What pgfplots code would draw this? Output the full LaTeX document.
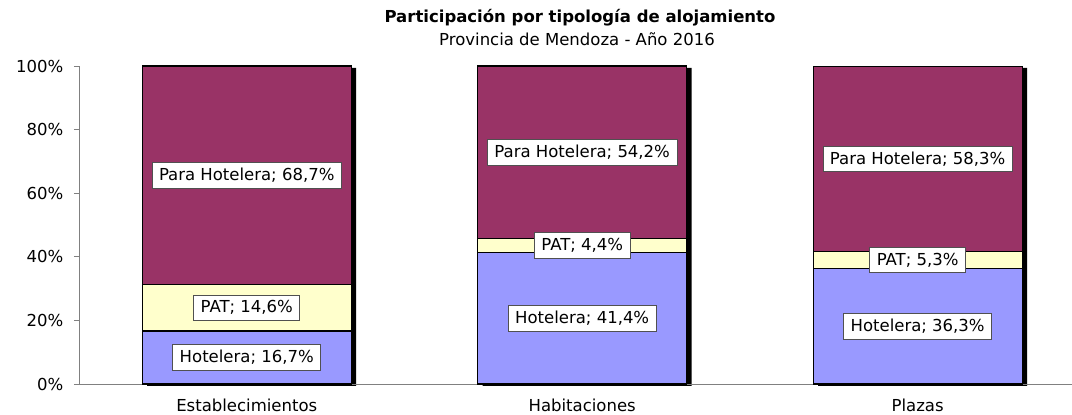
\documentclass[border=0pt]{standalone}
\usepackage{fontspec}
\setmainfont{DejaVu Sans}
\usepackage{pgfplots}
\pgfplotsset{compat=1.18}
\definecolor{ph}{HTML}{993366}
\definecolor{pat}{HTML}{FFFFCC}
\definecolor{hot}{HTML}{9999FF}
\definecolor{axgray}{HTML}{808080}
\definecolor{boxgray}{HTML}{505050}
\begin{document}
\fontsize{16.5}{20}\selectfont
\begin{tikzpicture}
\pgfplotsset{common/.style={scale only axis, width=993pt, height=318pt,
  xmin=-0.5, xmax=2.46, ymin=0, ymax=100, bar width=0.623}}
% shadow
\begin{axis}[common, hide axis, ybar, xshift=5pt, yshift=-2pt, clip=false]
\addplot[fill=black, draw=none] coordinates {(0,100) (1,100) (2,100)};
\end{axis}
\begin{axis}[common, ybar stacked, clip=false,
  axis x line=bottom, axis y line=left, axis line style={-, draw=axgray, line width=0.8pt},
  xtick={0,1,2}, xticklabels={Establecimientos, Habitaciones, Plazas},
  ytick={0,20,...,100},
  yticklabel={\pgfmathprintnumber[assume math mode=true]{\tick}\%},
  x tick label style={yshift=-4pt},
  y tick label style={xshift=-5pt},
  x tick style={draw=none}, y tick style={draw=axgray, line width=0.8pt},
  tick align=outside, major tick length=5pt,
  every node near coord/.append style={fill=white, draw=boxgray, line width=0.7pt,
     text=black, anchor=center, inner xsep=7pt, inner ysep=5.5pt},
]
\addplot[fill=hot, draw=black, line width=1.3pt,
  nodes near coords={Hotelera; \pgfmathprintnumber[fixed,precision=1,fixed zerofill,use comma,assume math mode=true]{\pgfplotspointmeta}\%}]
  coordinates {(0,16.7) (1,41.4) (2,36.3)};
\addplot[fill=pat, draw=black, line width=1.3pt,
  nodes near coords={PAT; \pgfmathprintnumber[fixed,precision=1,fixed zerofill,use comma,assume math mode=true]{\pgfplotspointmeta}\%}]
  coordinates {(0,14.6) (1,4.4) (2,5.3)};
\addplot[fill=ph, draw=black, line width=1.3pt,
  nodes near coords={Para Hotelera; \pgfmathprintnumber[fixed,precision=1,fixed zerofill,use comma,assume math mode=true]{\pgfplotspointmeta}\%}]
  coordinates {(0,68.7) (1,54.2) (2,58.3)};
\end{axis}
\node[font=\bfseries] at (501pt,366pt) {Participación por tipología de alojamiento};
\node at (498pt,345pt) {Provincia de Mendoza - Año 2016};
\pgfresetboundingbox
\path (-79pt,-31pt) rectangle (993pt,384pt);
\end{tikzpicture}
\end{document}
